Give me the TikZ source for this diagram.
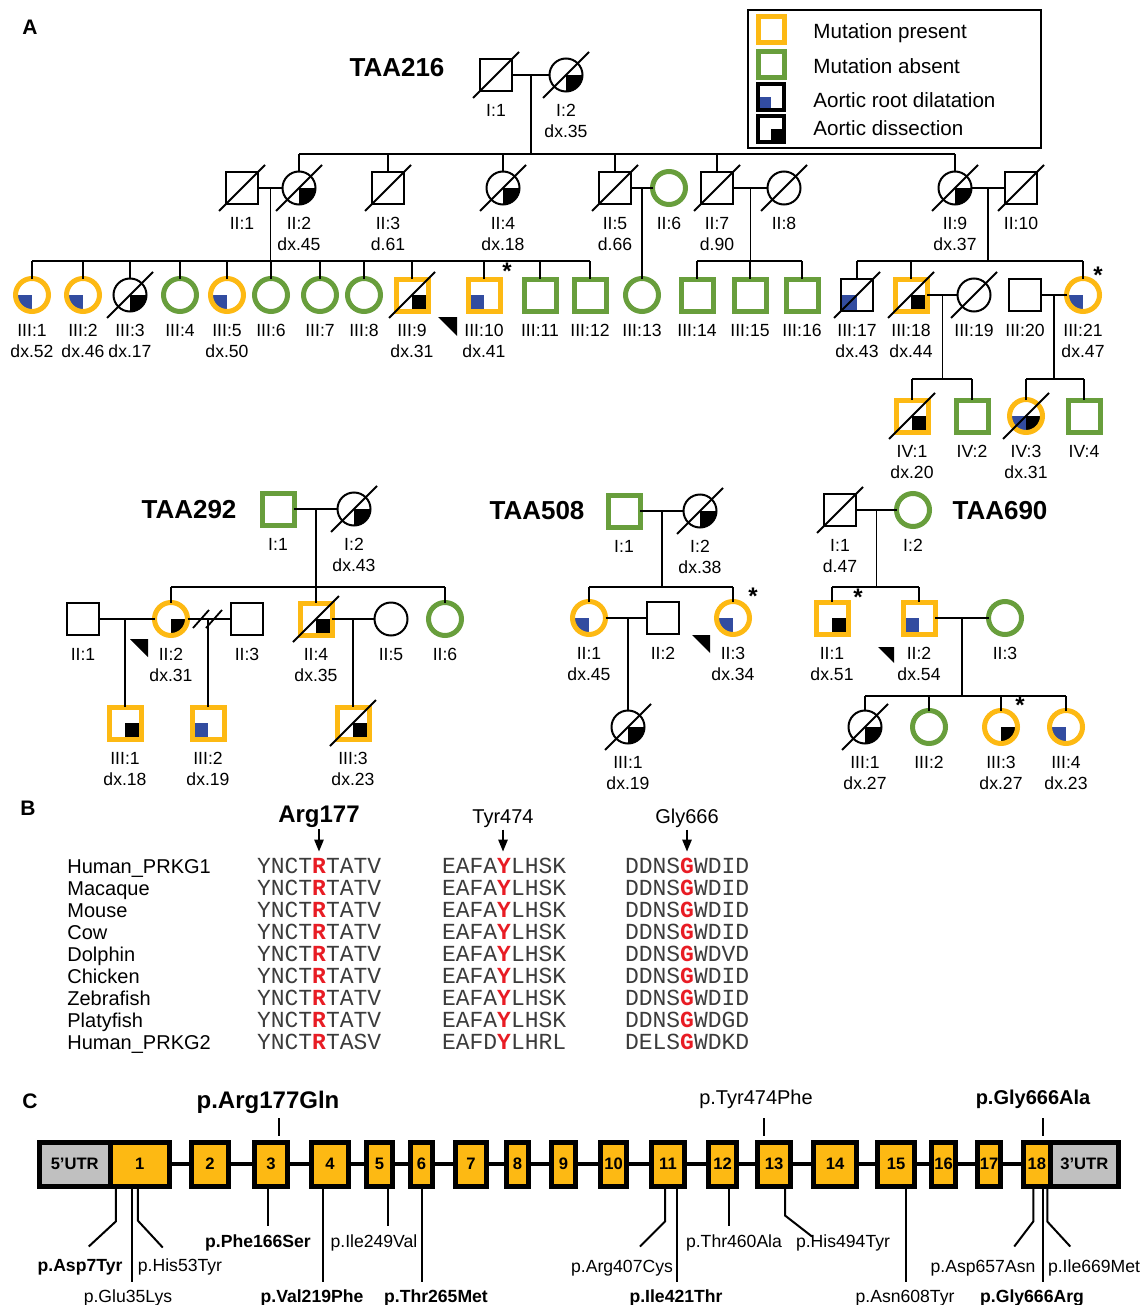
\documentclass[tikz,border=0pt]{standalone}
\usepackage{fontspec}
\setmainfont{Liberation Sans}
\newfontfamily\seqfont{Liberation Mono}
\usepackage{tikz}
\usetikzlibrary{arrows.meta, positioning, calc}

\definecolor{mutyellow}{RGB}{253,185,19}
\definecolor{mutgreen}{RGB}{104,158,60}
\definecolor{rootblue}{RGB}{50,76,160}
\definecolor{utrgray}{RGB}{192,192,192}
\definecolor{resred}{RGB}{232,28,36}
\definecolor{seqgray}{RGB}{60,60,60}

\newcommand{\labsize}{\fontsize{8.8}{10.6}\selectfont}
\newcommand{\legsize}{\fontsize{10.3}{12}\selectfont}
\newcommand{\famsize}{\fontsize{13}{15}\selectfont\bfseries}
\newcommand{\panelsize}{\fontsize{10.5}{12}\selectfont\bfseries}
\newcommand{\astsize}{\fontsize{12}{12}\selectfont\bfseries}
\newcommand{\namesize}{\fontsize{10}{12}\selectfont}
\newcommand{\argsize}{\fontsize{12}{14}\selectfont\bfseries}
\newcommand{\seqsize}{\fontsize{11.5}{13}\selectfont\seqfont}
\newcommand{\exsize}{\fontsize{8.3}{10}\selectfont\bfseries}
\newcommand{\dead}[1]{\draw[line width=1pt] ($(#1.center)+(-23,23)$) -- ($(#1.center)+(23,-23)$);}
\newcommand{\proband}[3]{\fill (#1,#2) -- ++(#3,0) -- ++(0,#3) -- cycle;}

\begin{document}
\begin{tikzpicture}[x=0.5pt, y=-0.5pt, >={Triangle[length=6pt,width=4.6pt]}, font=\labsize,
	sq/.style={rectangle, draw, line width=1pt, minimum size=16pt, inner sep=0pt, outer sep=0pt},
	ci/.style={circle, draw, line width=1pt, minimum size=16.5pt, inner sep=0pt, outer sep=0pt},
	yel/.style={draw=mutyellow, line width=2.5pt},
	grn/.style={draw=mutgreen, line width=2.5pt},
	dil/.style={path picture={\fill[rootblue] (path picture bounding box.center) rectangle (path picture bounding box.south west);}},
	dis/.style={path picture={\fill (path picture bounding box.center) rectangle (path picture bounding box.south east);}},
	dildis/.style={path picture={\fill[rootblue] (path picture bounding box.center) rectangle (path picture bounding box.south west);
		\fill (path picture bounding box.center) rectangle (path picture bounding box.south east);}},
	lab/.style={font=\labsize, align=center, inner sep=1pt},
	every label/.style={lab},
	label distance=5.3pt,
	rel/.style={line width=0.9pt},
	fam/.style={font=\famsize},
	panel/.style={font=\panelsize},
	ast/.style={font=\astsize, inner sep=0pt},
	legtext/.style={font=\legsize, anchor=west, inner sep=0pt},
	spname/.style={font=\namesize, anchor=base west, inner sep=0pt},
	seq/.style={font=\seqsize, text=seqgray, anchor=base west, inner sep=0pt, outer xsep=0pt, outer ysep=3pt},
	exon/.style={draw, line width=2.5pt, fill=mutyellow, minimum height=22pt, inner sep=0pt, font=\exsize},
	utr/.style={exon, fill=utrgray},
	intron/.style={line width=2.4pt},
	mline/.style={line width=1pt},
	mlab/.style={font=\labsize, anchor=base, inner sep=0pt}]

\useasboundingbox (0,0) rectangle (1142,1305);

\node[panel] (pA) at (30,27) {A};
\node[panel] (pB) at (28,808) {B};
\node[panel] (pC) at (30,1101) {C};

% legend
\draw[line width=1.1pt] (748,10) rectangle (1041,148);
\node[sq, yel, minimum size=13pt] (k-mut) at (771,30) {};
\node[sq, grn, minimum size=13pt] (k-abs) at (771,65) {};
\node[sq, dil, line width=1.6pt, minimum size=13pt] (k-dil) at (771,97) {};
\node[sq, dis, line width=1.6pt, minimum size=13pt] (k-dis) at (771,129) {};
\node[legtext] (k-mut-t) at (813,33) {Mutation present};
\node[legtext] (k-abs-t) at (813,66) {Mutation absent};
\node[legtext] (k-dil-t) at (813,100) {Aortic root dilatation};
\node[legtext] (k-dis-t) at (813,128) {Aortic dissection};

% TAA216
\node[fam] (p1-t) at (397,68) {TAA216};
\node[sq, label=below:{I:1}] (p1-I1) at (496,75) {};
\node[ci, dis, label=below:{I:2\\dx.35}] (p1-I2) at (566,75) {};
\dead{p1-I1} \dead{p1-I2}
\draw[rel] (p1-I1) -- (p1-I2);
\coordinate (p1-c1) at ($(p1-I1)!.5!(p1-I2)$);
\coordinate (p1-s2) at (0,154);

\node[sq, label=below:{II:1}] (p1-II1) at (242,188) {};
\node[ci, dis, label=below:{II:2\\dx.45}] (p1-II2) at (299,188) {};
\node[sq, label=below:{II:3\\d.61}] (p1-II3) at (388,188) {};
\node[ci, dis, label=below:{II:4\\dx.18}] (p1-II4) at (503,188) {};
\node[sq, label=below:{II:5\\d.66}] (p1-II5) at (615,188) {};
\node[ci, grn, label=below:{II:6}] (p1-II6) at (669,188) {};
\node[sq, label=below:{II:7\\d.90}] (p1-II7) at (717,188) {};
\node[ci, label=below:{II:8}] (p1-II8) at (784,188) {};
\node[ci, dis, label=below:{II:9\\dx.37}] (p1-II9) at (955,188) {};
\node[sq, label=below:{II:10}] (p1-II10) at (1021,188) {};
\foreach \k in {1,2,3,4,5,7,8,9,10} {\dead{p1-II\k}}
\draw[rel] (p1-c1) -- (p1-c1 |- p1-s2);
\draw[rel] (p1-II2 |- p1-s2) -- (p1-II9 |- p1-s2);
\foreach \k in {2,3,4,5,7,9} {\draw[rel] (p1-II\k |- p1-s2) -- (p1-II\k.north);}
\draw[rel] (p1-II1) -- (p1-II2);
\draw[rel] (p1-II5) -- (p1-II6);
\draw[rel] (p1-II7) -- (p1-II8);
\draw[rel] (p1-II9) -- (p1-II10);

\coordinate (p1-s3) at (0,261);
\node[ci, yel, dil, label=below:{III:1\\dx.52}] (p1-III1) at (32,295) {};
\node[ci, yel, dil, label=below:{III:2\\dx.46}] (p1-III2) at (83,295) {};
\node[ci, dis, label=below:{III:3\\dx.17}] (p1-III3) at (130,295) {};
\node[ci, grn, label=below:{III:4}] (p1-III4) at (180,295) {};
\node[ci, yel, dil, label=below:{III:5\\dx.50}] (p1-III5) at (227,295) {};
\node[ci, grn, label=below:{III:6}] (p1-III6) at (271,295) {};
\node[ci, grn, label=below:{III:7}] (p1-III7) at (320,295) {};
\node[ci, grn, label=below:{III:8}] (p1-III8) at (364,295) {};
\node[sq, yel, dis, label=below:{III:9\\dx.31}] (p1-III9) at (412,295) {};
\node[sq, yel, dil, label=below:{III:10\\dx.41}] (p1-III10) at (484,295) {};
\node[sq, grn, label=below:{III:11}] (p1-III11) at (540,295) {};
\node[sq, grn, label=below:{III:12}] (p1-III12) at (590,295) {};
\node[ci, grn, label=below:{III:13}] (p1-III13) at (642,295) {};
\node[sq, grn, label=below:{III:14}] (p1-III14) at (697,295) {};
\node[sq, grn, label=below:{III:15}] (p1-III15) at (750,295) {};
\node[sq, grn, label=below:{III:16}] (p1-III16) at (802,295) {};
\node[sq, dil, label=below:{III:17\\dx.43}] (p1-III17) at (857,295) {};
\node[sq, yel, dis, label=below:{III:18\\dx.44}] (p1-III18) at (911,295) {};
\node[ci, label=below:{III:19}] (p1-III19) at (974,295) {};
\node[sq, label=below:{III:20}] (p1-III20) at (1025,295) {};
\node[ci, yel, dil, label=below:{III:21\\dx.47}] (p1-III21) at (1083,295) {};
\foreach \k in {3,9,17,18,19} {\dead{p1-III\k}}
\coordinate (p1-c2) at ($(p1-II1)!.5!(p1-II2)$);
\draw[rel] (p1-c2) -- (p1-c2 |- p1-s3);
\draw[rel] (p1-III1 |- p1-s3) -- (p1-III12 |- p1-s3);
\foreach \k in {1,...,12} {\draw[rel] (p1-III\k |- p1-s3) -- (p1-III\k.north);}
\coordinate (p1-c3) at ($(p1-II5)!.5!(p1-II6)$);
\draw[rel] (p1-c3) -- (p1-III13.north);
\coordinate (p1-c4) at ($(p1-II7)!.5!(p1-II8)$);
\draw[rel] (p1-c4) -- (p1-c4 |- p1-s3);
\draw[rel] (p1-III14 |- p1-s3) -- (p1-III16 |- p1-s3);
\foreach \k in {14,15,16} {\draw[rel] (p1-III\k |- p1-s3) -- (p1-III\k.north);}
\coordinate (p1-c5) at ($(p1-II9)!.5!(p1-II10)$);
\draw[rel] (p1-c5) -- (p1-c5 |- p1-s3);
\draw[rel] (p1-III17 |- p1-s3) -- (p1-III21 |- p1-s3);
\foreach \k in {17,18,21} {\draw[rel] (p1-III\k |- p1-s3) -- (p1-III\k.north);}
\draw[rel] (p1-III18) -- (p1-III19);
\draw[rel] (p1-III20) -- (p1-III21);
\proband{438}{317}{19}
\node[ast] (p1-a10) at (507,271) {*};
\node[ast] (p1-a21) at (1098,275) {*};

\coordinate (p1-s4) at (0,379);
\node[sq, yel, dis, label=below:{IV:1\\dx.20}] (p1-IV1) at (912,416) {};
\node[sq, grn, label=below:{IV:2}] (p1-IV2) at (972,416) {};
\node[ci, yel, dildis, label=below:{IV:3\\dx.31}] (p1-IV3) at (1026,416) {};
\node[sq, grn, label=below:{IV:4}] (p1-IV4) at (1084,416) {};
\dead{p1-IV1} \dead{p1-IV3}
\coordinate (p1-c6) at ($(p1-III18)!.5!(p1-III19)$);
\coordinate (p1-c7) at ($(p1-III20)!.5!(p1-III21)$);
\draw[rel] (p1-c6) -- (p1-c6 |- p1-s4);
\draw[rel] (p1-c7) -- (p1-c7 |- p1-s4);
\draw[rel] (p1-IV1 |- p1-s4) -- (p1-IV2 |- p1-s4);
\draw[rel] (p1-IV3 |- p1-s4) -- (p1-IV4 |- p1-s4);
\foreach \k in {1,...,4} {\draw[rel] (p1-IV\k |- p1-s4) -- (p1-IV\k.north);}

% TAA292
\node[fam] (p2-t) at (189,510) {TAA292};
\node[sq, grn, label=below:{I:1}] (p2-I1) at (278,509) {};
\node[ci, dis, label=below:{I:2\\dx.43}] (p2-I2) at (354,509) {};
\dead{p2-I2}
\draw[rel] (p2-I1) -- (p2-I2);
\coordinate (p2-c1) at ($(p2-I1)!.5!(p2-I2)$);
\coordinate (p2-s2) at (0,587);
\node[sq, label=below:{II:1}] (p2-II1) at (83,619) {};
\node[ci, yel, dis, label=below:{II:2\\dx.31}] (p2-II2) at (171,619) {};
\node[sq, label=below:{II:3}] (p2-II3) at (247,619) {};
\node[sq, yel, dis, label=below:{II:4\\dx.35}] (p2-II4) at (316,619) {};
\node[ci, label=below:{II:5}] (p2-II5) at (391,619) {};
\node[ci, grn, label=below:{II:6}] (p2-II6) at (445,619) {};
\dead{p2-II4}
\draw[rel] (p2-c1) -- (p2-c1 |- p2-s2);
\draw[rel] (p2-II2 |- p2-s2) -- (p2-II6 |- p2-s2);
\foreach \k in {2,4,6} {\draw[rel] (p2-II\k |- p2-s2) -- (p2-II\k.north);}
\draw[rel] (p2-II1) -- (p2-II2);
\draw[rel] (p2-II2) -- (p2-II3);
\draw[rel] (p2-II4) -- (p2-II5);
\draw[rel] (193,628) -- (209,610);
\draw[rel] (206,628) -- (222,610);
\node[sq, yel, dis, label=below:{III:1\\dx.18}] (p2-III1) at (125,723) {};
\node[sq, yel, dil, label=below:{III:2\\dx.19}] (p2-III2) at (208,723) {};
\node[sq, yel, dis, label=below:{III:3\\dx.23}] (p2-III3) at (353,723) {};
\dead{p2-III3}
\foreach \k in {1,2,3} {\draw[rel] (p2-III\k.north |- p2-II1) -- (p2-III\k.north);}
\proband{130}{639}{18}

% TAA508
\node[fam] (p3-t) at (537,511) {TAA508};
\node[sq, grn, label=below:{I:1}] (p3-I1) at (624,511) {};
\node[ci, dis, label=below:{I:2\\dx.38}] (p3-I2) at (700,511) {};
\dead{p3-I2}
\draw[rel] (p3-I1) -- (p3-I2);
\coordinate (p3-c1) at ($(p3-I1)!.5!(p3-I2)$);
\coordinate (p3-s2) at (0,587);
\node[ci, yel, dil, label=below:{II:1\\dx.45}] (p3-II1) at (589,618) {};
\node[sq, label=below:{II:2}] (p3-II2) at (663,618) {};
\node[ci, yel, dil, label=below:{II:3\\dx.34}] (p3-II3) at (733,618) {};
\draw[rel] (p3-c1) -- (p3-c1 |- p3-s2);
\draw[rel] (p3-II1 |- p3-s2) -- (p3-II3 |- p3-s2);
\foreach \k in {1,3} {\draw[rel] (p3-II\k |- p3-s2) -- (p3-II\k.north);}
\draw[rel] (p3-II1) -- (p3-II2);
\node[ci, dis, label=below:{III:1\\dx.19}] (p3-III1) at (628,727) {};
\dead{p3-III1}
\draw[rel] (p3-III1.north |- p3-II1) -- (p3-III1.north);
\proband{692}{635}{18}
\node[ast] (p3-a3) at (753,596) {*};

% TAA690
\node[fam] (p4-t) at (1000,511) {TAA690};
\node[sq, label=below:{I:1\\d.47}] (p4-I1) at (840,510) {};
\node[ci, grn, label=below:{I:2}] (p4-I2) at (913,510) {};
\dead{p4-I1}
\draw[rel] (p4-I1) -- (p4-I2);
\coordinate (p4-c1) at ($(p4-I1)!.5!(p4-I2)$);
\coordinate (p4-s2) at (0,587);
\node[sq, yel, dis, label=below:{II:1\\dx.51}] (p4-II1) at (832,618) {};
\node[sq, yel, dil, label=below:{II:2\\dx.54}] (p4-II2) at (919,618) {};
\node[ci, grn, label=below:{II:3}] (p4-II3) at (1005,618) {};
\draw[rel] (p4-c1) -- (p4-c1 |- p4-s2);
\draw[rel] (p4-II1 |- p4-s2) -- (p4-II2 |- p4-s2);
\foreach \k in {1,2} {\draw[rel] (p4-II\k |- p4-s2) -- (p4-II\k.north);}
\draw[rel] (p4-II2) -- (p4-II3);
\coordinate (p4-c2) at ($(p4-II2)!.5!(p4-II3)$);
\coordinate (p4-s3) at (0,696);
\node[ci, dis, label=below:{III:1\\dx.27}] (p4-III1) at (865,727) {};
\node[ci, grn, label=below:{III:2}] (p4-III2) at (929,727) {};
\node[ci, yel, dis, label=below:{III:3\\dx.27}] (p4-III3) at (1001,727) {};
\node[ci, yel, dil, label=below:{III:4\\dx.23}] (p4-III4) at (1066,727) {};
\dead{p4-III1}
\draw[rel] (p4-c2) -- (p4-c2 |- p4-s3);
\draw[rel] (p4-III1 |- p4-s3) -- (p4-III4 |- p4-s3);
\foreach \k in {1,...,4} {\draw[rel] (p4-III\k |- p4-s3) -- (p4-III\k.north);}
\proband{878}{647}{16}
\node[ast] (p4-a1) at (858,597) {*};
\node[ast] (p4-a3) at (1020,705) {*};

% alignment
\node[font=\argsize, anchor=base, inner sep=1pt] (al-arg) at (319,822) {Arg177};
\node[font=\namesize, anchor=base, inner sep=1pt] (al-tyr) at (503,823) {Tyr474};
\node[font=\namesize, anchor=base, inner sep=1pt] (al-gly) at (687,823) {Gly666};
\foreach \nm/\ra/\rb/\ya/\yb/\ga/\gb [count=\i from 0] in {
	Human\_PRKG1/YNCT/TATV/EAFA/LHSK/DDNS/WDID,
	Macaque/YNCT/TATV/EAFA/LHSK/DDNS/WDID,
	Mouse/YNCT/TATV/EAFA/LHSK/DDNS/WDID,
	Cow/YNCT/TATV/EAFA/LHSK/DDNS/WDID,
	Dolphin/YNCT/TATV/EAFA/LHSK/DDNS/WDVD,
	Chicken/YNCT/TATV/EAFA/LHSK/DDNS/WDID,
	Zebrafish/YNCT/TATV/EAFA/LHSK/DDNS/WDID,
	Platyfish/YNCT/TATV/EAFA/LHSK/DDNS/WDGD,
	Human\_PRKG2/YNCT/TASV/EAFD/LHRL/DELS/WDKD} {
	\node[spname] (al-n\i) at (67,{873+22*\i}) {\nm};
	\node[seq] (al-r\i) at (257,{873+22*\i}) {\ra\textbf{\textcolor{resred}{R}}\rb};
	\node[seq] (al-y\i) at (442,{873+22*\i}) {\ya\textbf{\textcolor{resred}{Y}}\yb};
	\node[seq] (al-g\i) at (625,{873+22*\i}) {\ga\textbf{\textcolor{resred}{G}}\gb};
}
\draw[->, line width=1pt] (al-arg.south) -- (al-arg.south |- al-r0.north);
\draw[->, line width=1pt] (al-tyr.south) -- (al-tyr.south |- al-y0.north);
\draw[->, line width=1pt] (al-gly.south) -- (al-gly.south |- al-g0.north);

% gene
\node[utr, minimum width=35.25pt] (g-u5) at (74.75,1164) {5’UTR};
\node[exon, minimum width=29.75pt] (g-e1) at (139.75,1164) {1};
\foreach \n/\a/\b in {2/189/231, 3/252/290, 4/309/351, 5/364/395, 6/408/435, 7/453/489, 8/504/531,
	9/549/578, 10/598/629, 11/649/687, 12/706/739, 13/755/793, 14/811/859, 15/875/917, 16/929/958, 17/975/1003}
	\node[exon, minimum width={(\b-\a-5)*0.5pt}] (g-e\n) at ({(\a+\b)/2},1164) {\n};
\node[exon, minimum width=13.25pt] (g-e18) at (1036.75,1164) {18};
\node[utr, minimum width=34.25pt] (g-u3) at (1084.25,1164) {3’UTR};
\foreach \p [evaluate=\p as \q using int(\p+1)] in {1,...,17} {\draw[intron] (g-e\p) -- (g-e\q);}

\node[font=\argsize, anchor=base, inner sep=0pt] (g-m177) at (268,1108) {p.Arg177Gln};
\node[font=\namesize, anchor=base, inner sep=0pt] (g-m474) at (756,1104) {p.Tyr474Phe};
\node[font=\namesize\bfseries, anchor=base, inner sep=0pt] (g-m666a) at (1033,1104) {p.Gly666Ala};
\draw[mline] (g-e3.north) ++(8,-4) -- ++(0,-18);
\draw[mline] (g-e13.north) ++(-10,-4) -- ++(0,-18);
\draw[mline] (g-e18.north) ++(6.5,-4) -- ++(0,-18);

\draw[mline] (g-e1.south) ++(-24,0) -- ++(0,33) -- ++(-27,25);
\draw[mline] (g-e1.south) ++(-8,0) -- ++(0,93);
\draw[mline] (g-e1.south) ++(-2,0) -- ++(0,32) -- ++(25,27);
\draw[mline] (g-e3.south) ++(-3,0) -- ++(0,37);
\draw[mline] (g-e4.south) ++(-7,0) -- ++(0,93);
\draw[mline] (g-e5.south) ++(8.5,0) -- ++(0,37);
\draw[mline] (g-e6.south) ++(0,0) -- ++(0,93);
\draw[mline] (g-e11.south) ++(-3,0) -- ++(0,33) -- ++(-25,25);
\draw[mline] (g-e11.south) ++(9,0) -- ++(0,93);
\draw[mline] (g-e12.south) ++(6.5,0) -- ++(0,37);
\draw[mline] (g-e13.south) ++(11,0) -- ++(0,27) -- ++(27,21);
\draw[mline] (g-e15.south) ++(10,0) -- ++(0,93);
\draw[mline] (g-e18.south) ++(-3.5,0) -- ++(0,33) -- ++(-19,25);
\draw[mline] (g-e18.south) ++(6.5,0) -- ++(0,93);
\draw[mline] (g-e18.south) ++(10.5,0) -- ++(0,33) -- ++(23,25);

\node[mlab] (g-d7) at (80,1271) {\textbf{p.Asp7Tyr}};
\node[mlab] (g-e35) at (128,1302) {p.Glu35Lys};
\node[mlab] (g-h53) at (180,1271) {p.His53Tyr};
\node[mlab] (g-f166) at (258,1247) {\textbf{p.Phe166Ser}};
\node[mlab] (g-v219) at (312,1302) {\textbf{p.Val219Phe}};
\node[mlab] (g-i249) at (374,1247) {p.Ile249Val};
\node[mlab] (g-t265) at (436,1302) {\textbf{p.Thr265Met}};
\node[mlab] (g-r407) at (622,1272) {p.Arg407Cys};
\node[mlab] (g-i421) at (676,1302) {\textbf{p.Ile421Thr}};
\node[mlab] (g-t460) at (734,1247) {p.Thr460Ala};
\node[mlab] (g-h494) at (843,1247) {p.His494Tyr};
\node[mlab] (g-n608) at (905,1302) {p.Asn608Tyr};
\node[mlab] (g-d657) at (983,1272) {p.Asp657Asn};
\node[mlab] (g-g666r) at (1032,1302) {\textbf{p.Gly666Arg}};
\node[mlab] (g-i669) at (1094,1272) {p.Ile669Met};
\end{tikzpicture}
\end{document}
